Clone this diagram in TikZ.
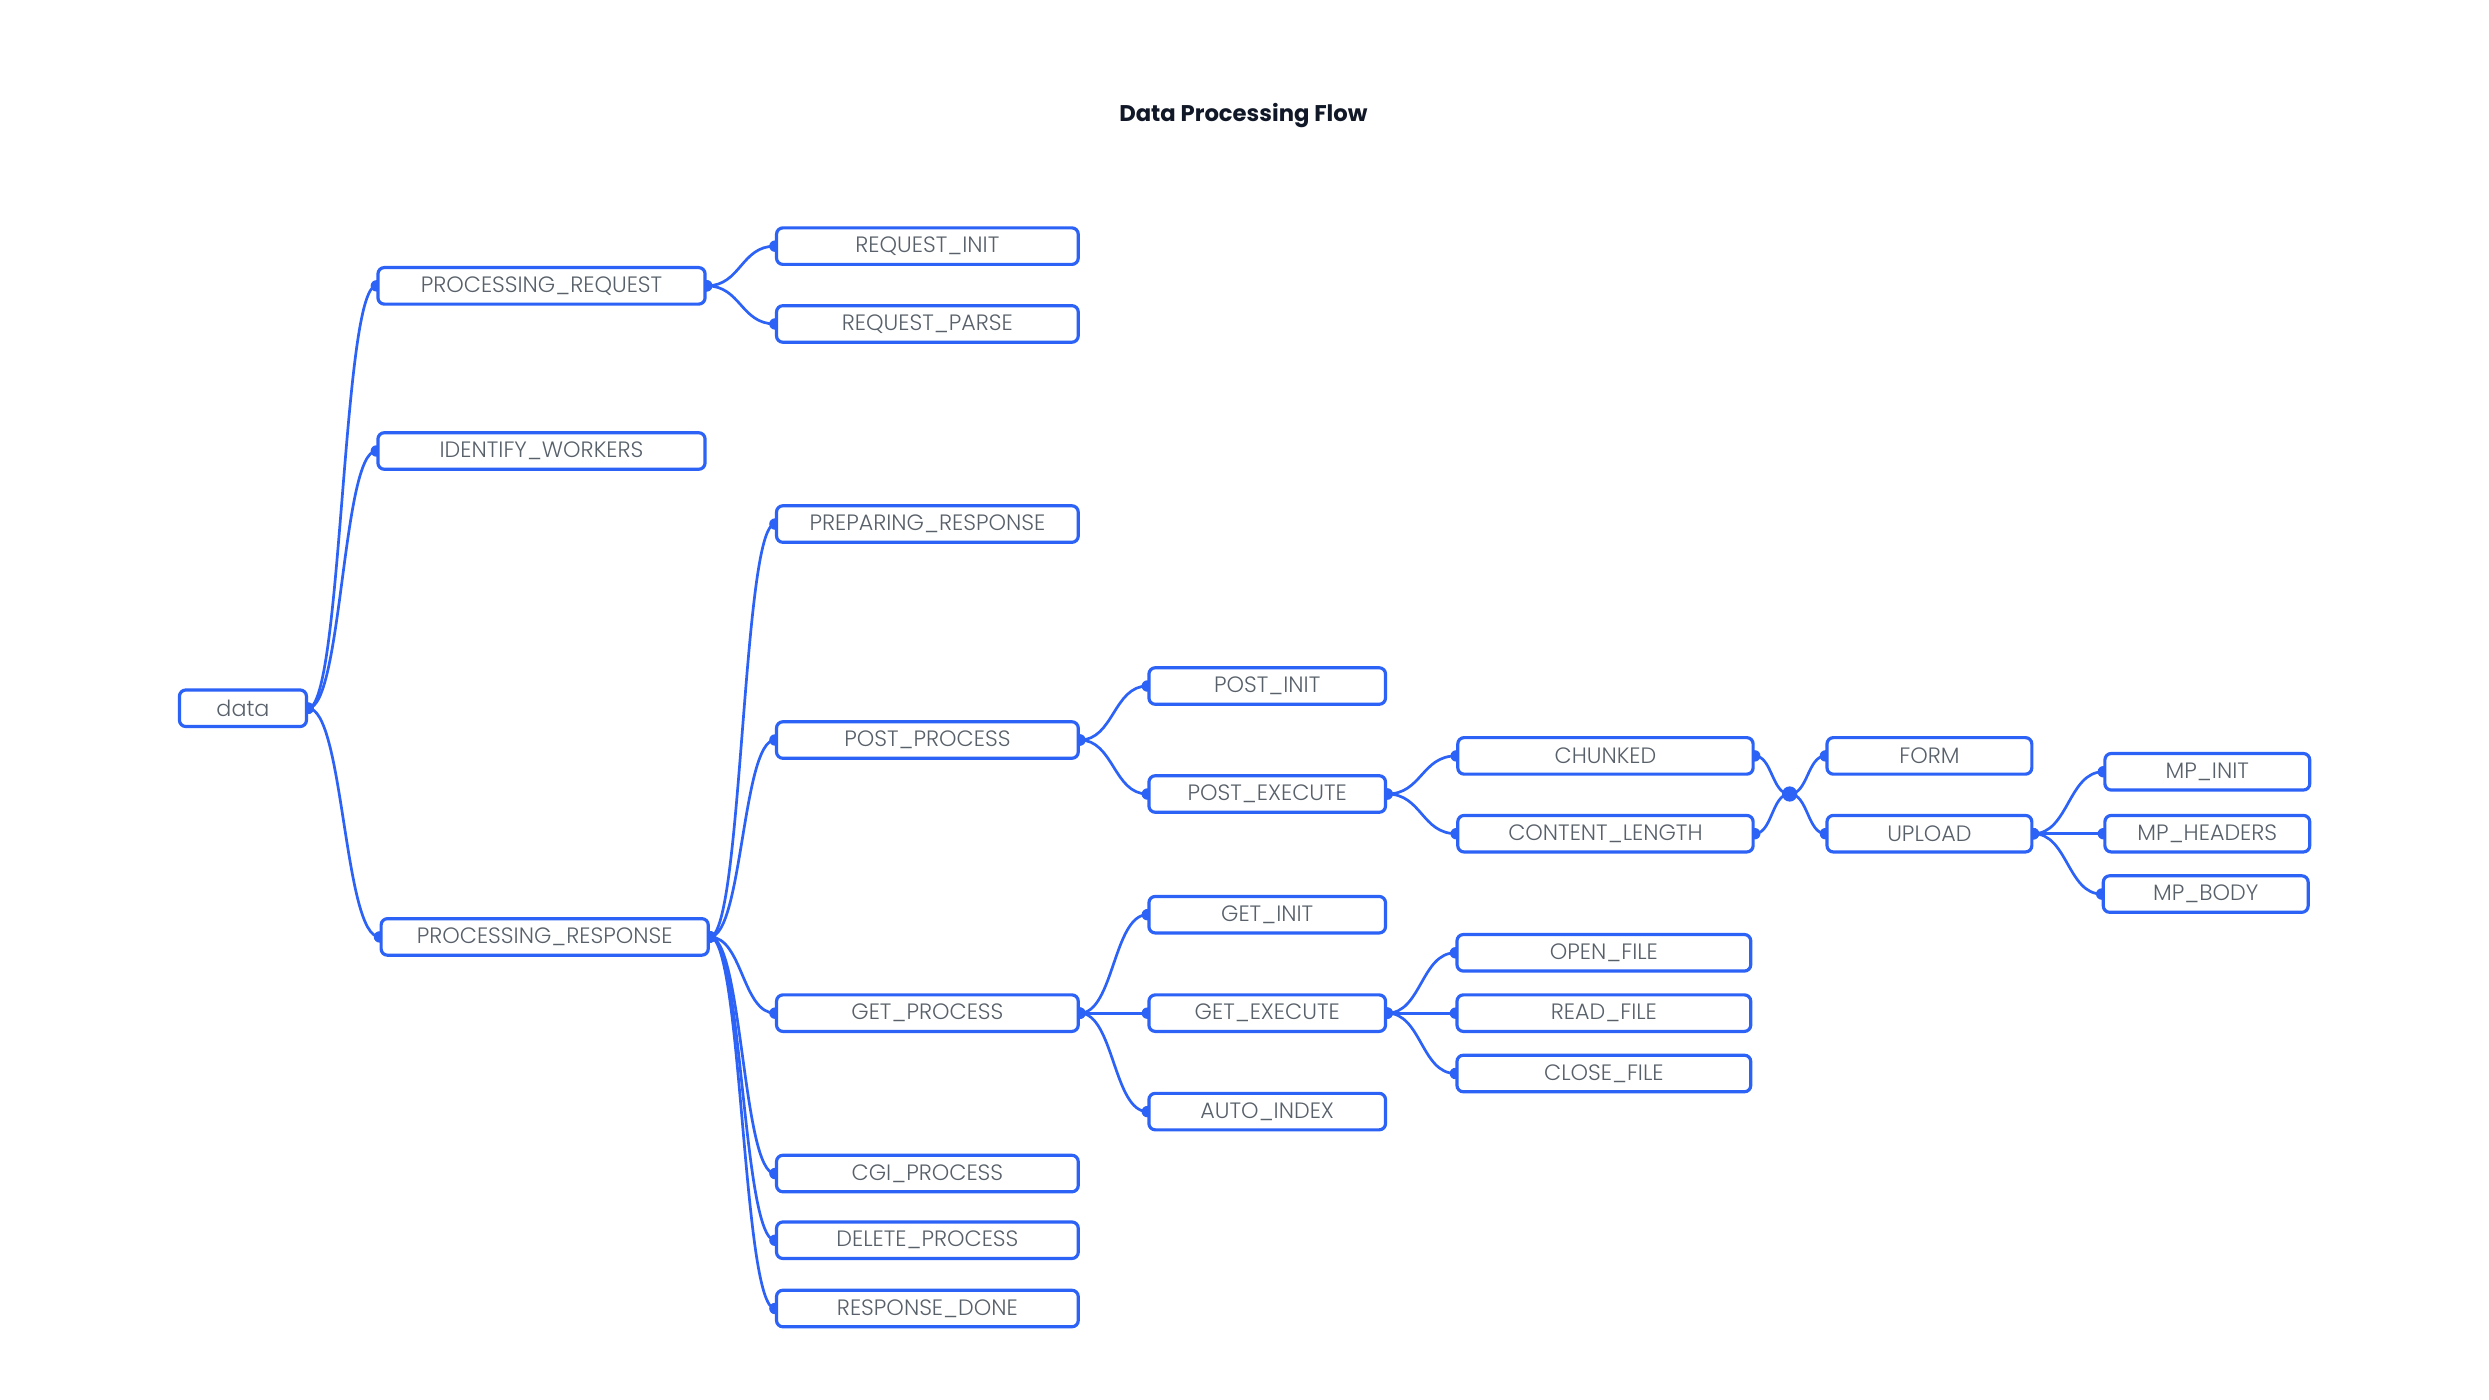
\documentclass[tikz,border=0pt]{standalone}
\usepackage{fontspec}
\setmainfont{Poppins}
\newfontfamily\thinfont{Poppins}[UprightFont={* Light}]
\usetikzlibrary{calc,backgrounds}
\definecolor{flowblue}{RGB}{44,98,246}
\definecolor{flowgray}{RGB}{88,96,106}
\definecolor{titleink}{RGB}{17,24,39}
\tikzset{link/.style={flowblue, line width=1.7}}
\tikzset{stage/.style={draw=flowblue, fill=white, line width=2.0, rounded corners=4, minimum height=23, minimum width=#1, inner sep=0pt, text=flowgray, font=\thinfont\fontsize{14}{14}\selectfont}}
\tikzset{joint/.style={circle, inner sep=0pt, minimum size=0pt}}
\tikzset{heading/.style={text=titleink, font=\bfseries\fontsize{14.3}{18}\selectfont}}
\newcommand{\branch}[2]{%
  \draw[link] let \p1=(#1.east), \p2=(#2.west) in
    (\p1) .. controls ({(\x1+\x2)/2},\y1) and ({(\x1+\x2)/2},\y2) .. (\p2);
  \fill[flowblue] (#1.east) circle (3.6) (#2.west) circle (3.6);}

\begin{document}
\begin{tikzpicture}[x=1pt, y=-1pt]
\useasboundingbox (0,0) rectangle (1567.4,881.4);
\node[heading] (title) at (783,73) {Data Processing Flow};
\node[stage=80] (data) at (153,446) {data};
\node[stage=206] (preq) at (341,180) {PROCESSING\_REQUEST};
\node[stage=206] (idw) at (341,284) {IDENTIFY\_WORKERS};
\node[stage=206] (presp) at (343,590) {PROCESSING\_RESPONSE};
\node[stage=190] (rinit) at (584,155) {REQUEST\_INIT};
\node[stage=190] (rparse) at (584,204) {REQUEST\_PARSE};
\node[stage=190] (prep) at (584,330) {PREPARING\_RESPONSE};
\node[stage=190] (postp) at (584,466) {POST\_PROCESS};
\node[stage=190] (getp) at (584,638) {GET\_PROCESS};
\node[stage=190] (cgi) at (584,739) {CGI\_PROCESS};
\node[stage=190] (delp) at (584,781) {DELETE\_PROCESS};
\node[stage=190] (rdone) at (584,824) {RESPONSE\_DONE};
\node[stage=149] (pinit) at (798,432) {POST\_INIT};
\node[stage=149] (pexec) at (798,500) {POST\_EXECUTE};
\node[stage=149] (ginit) at (798,576) {GET\_INIT};
\node[stage=149] (gexec) at (798,638) {GET\_EXECUTE};
\node[stage=149] (aidx) at (798,700) {AUTO\_INDEX};
\node[stage=186] (chunk) at (1011,476) {CHUNKED};
\node[stage=186] (clen) at (1011,525) {CONTENT\_LENGTH};
\node[stage=185] (ofile) at (1010,600) {OPEN\_FILE};
\node[stage=185] (rfile) at (1010,638) {READ\_FILE};
\node[stage=185] (cfile) at (1010,676) {CLOSE\_FILE};
\node[joint] (jn) at (1127,500) {};
\fill[flowblue] (jn) circle (4.8);
\node[stage=129] (form) at (1215,476) {FORM};
\node[stage=129] (upload) at (1215,525) {UPLOAD};
\node[stage=129] (mpinit) at (1390,486) {MP\_INIT};
\node[stage=129] (mphead) at (1390,525) {MP\_HEADERS};
\node[stage=129] (mpbody) at (1389,563) {MP\_BODY};
\begin{scope}[on background layer]
% tree connectors
\branch{data}{preq} \branch{data}{idw} \branch{data}{presp}
\branch{preq}{rinit} \branch{preq}{rparse}
\branch{presp}{prep} \branch{presp}{postp} \branch{presp}{getp}
\branch{presp}{cgi} \branch{presp}{delp} \branch{presp}{rdone}
\branch{postp}{pinit} \branch{postp}{pexec}
\branch{getp}{ginit} \branch{getp}{gexec} \branch{getp}{aidx}
\branch{pexec}{chunk} \branch{pexec}{clen}
\branch{gexec}{ofile} \branch{gexec}{rfile} \branch{gexec}{cfile}
% both transfer modes meet before the body parser
\branch{chunk}{jn} \branch{clen}{jn}
\branch{jn}{form} \branch{jn}{upload}
\branch{upload}{mpinit} \branch{upload}{mphead} \branch{upload}{mpbody}
\end{scope}
\end{tikzpicture}
\end{document}
